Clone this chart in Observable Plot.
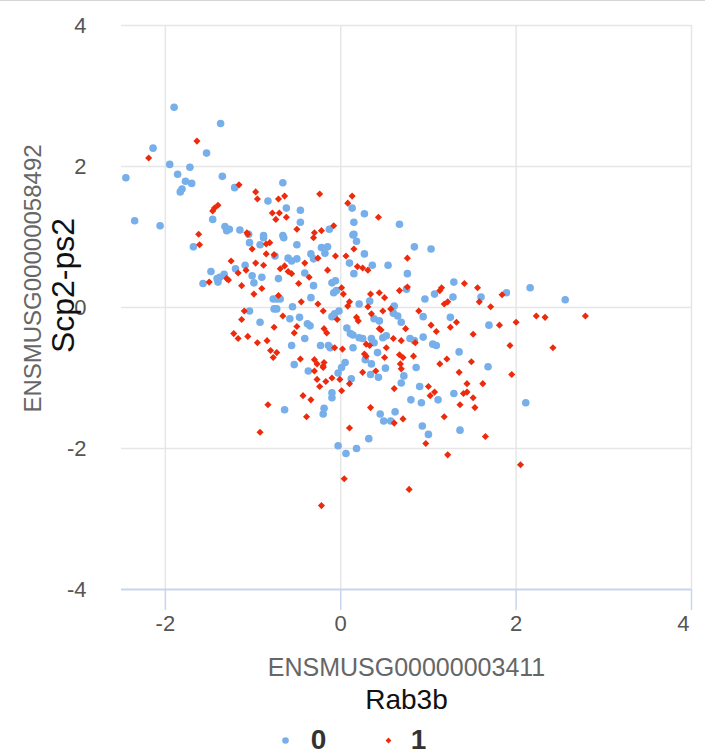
<!DOCTYPE html>
<html>
<head>
<meta charset="utf-8">
<script src="https://cdn.jsdelivr.net/npm/d3@7"></script>
<script src="https://cdn.jsdelivr.net/npm/@observablehq/plot@0.6"></script>
<style>
  html, body { margin: 0; padding: 0; background: #fff; }
  #wrap { position: relative; width: 705px; height: 756px; }
  #topline { position: absolute; left: 0; top: 0; width: 705px; height: 1px; background: #d4d4d4; }
</style>
</head>
<body>
<div id="wrap"><div id="chart"></div><div id="topline"></div></div>
<script>
// Axis titles, categories and ticks
const xTitle = ["ENSMUSG00000003411", "Rab3b"];
const yTitle = ["ENSMUSG00000058492", "Scp2-ps2"];
const categories = ["0", "1"];
const xTicks = [-2, 0, 2, 4];
const yTicks = [-4, -2, 0, 2, 4];

// Group "0" (blue circles)
const x0 = [-2.45,-2.35,-2.06,-1.90,-2.14,-1.95,-1.37,-1.53,-1.72,-1.86,-1.77,-1.70,-1.83,-1.81,-1.35,-1.21,-0.83,-1.46,-1.32,-1.27,-1.15,-0.88,
  -0.66,-0.62,-0.46,-0.46,-0.13,0.13,0.27,0.15,0.67,0.15,-0.66,
  -1.68,-1.30,-1.05,-0.88,-1.04,-0.92,-1.20,-1.09,-1.48,-1.57,-1.41,-1.38,-1.33,-1.40,-1.01,-0.99,-0.90,-0.77,-0.76,-1.04,-0.92,
  -0.65,0.14,0.18,-0.50,-0.22,-0.15,-0.18,0.27,0.84,1.03,-0.75,-0.60,-0.56,-0.50,-0.34,-0.31,0.10,0.36,0.54,0.15,0.76,-0.71,-0.41,-0.31,-0.10,-0.06,-0.08,-0.05,0.75,0.33,0.96,1.07,
  -0.73,-0.69,-0.73,-0.34,-0.55,0.21,0.61,0.60,0.94,-0.02,-0.07,-0.10,-0.47,-0.38,-0.35,-0.58,0.38,0.44,0.65,0.69,0.07,0.11,0.14,0.21,0.25,0.35,0.38,0.48,0.52,0.79,0.84,0.94,
  -0.41,-0.23,-0.14,-0.12,-0.56,0.14,0.42,-0.53,0.01,0.05,0.28,0.35,0.86,
  -0.37,-0.03,0.12,-0.10,-0.10,0.34,0.43,0.51,0.69,0.72,0.90,0.80,0.92,-0.64,-0.19,-0.20,0.45,0.49,0.57,0.62,0.93,1.00,0.32,-0.03,0.06,0.18,
  1.68,1.11,1.29,2.11,1.36,
  1.29,1.28,1.60,1.89,2.16,2.56,1.69,1.25,1.05,1.09,1.35];
const y0 = [1.84,1.23,1.16,2.84,2.26,2.03,2.61,2.19,1.99,1.89,1.79,1.76,1.64,1.68,1.86,1.70,1.51,1.25,1.15,1.11,1.10,1.02,
  1.77,1.41,1.38,1.21,1.11,1.41,1.33,1.21,1.18,1.04,1.02,
  0.86,1.09,1.04,0.99,0.92,0.89,0.55,0.60,0.51,0.34,0.41,0.43,0.47,0.36,0.45,0.35,0.43,0.12,-0.02,-0.05,-0.21,
  0.99,1.03,0.94,0.89,0.85,0.86,0.77,0.76,0.86,0.83,0.73,0.70,0.66,0.69,0.76,0.69,0.63,0.60,0.60,0.48,0.48,0.41,0.49,0.31,0.35,0.38,0.21,0.24,0.26,0.09,0.12,0.19,
  0.12,0.12,-0.02,0.14,0.01,0.05,0.02,-0.08,-0.13,-0.05,-0.09,-0.13,-0.14,-0.23,-0.26,-0.16,-0.16,-0.19,-0.12,-0.21,-0.29,-0.37,-0.39,-0.43,-0.44,-0.44,-0.50,-0.43,-0.40,-0.44,-0.47,-0.42,
  -0.44,-0.54,-0.54,-0.57,-0.54,-0.57,-0.64,-0.81,-0.85,-0.78,-0.74,-0.80,-0.85,
  -0.90,-0.93,-1.01,-1.21,-1.28,-0.95,-0.99,-0.86,-1.07,-0.97,-1.12,-1.31,-1.35,-1.45,-1.43,-1.51,-1.51,-1.61,-1.61,-1.48,-1.68,-1.80,-1.86,-1.96,-2.07,-2.00,
  -0.84,-1.31,-1.22,-1.35,-1.74,
  0.36,0.15,0.15,0.21,0.28,0.11,-0.25,-0.14,-0.52,-0.54,-0.63];

// Group "1" (red diamonds)
const x1 = [-2.19,-1.64,-1.16,-0.97,-0.95,-1.40,-1.44,-1.46,-0.78,-0.74,-1.62,-1.07,
  -0.71,-0.64,-0.24,-0.70,-0.62,-0.50,-0.30,-0.22,-0.08,0.13,0.08,0.43,
  -1.61,-1.06,-0.85,-0.81,-1.01,-0.85,-0.76,-1.25,-0.97,-0.88,-1.17,-1.08,-1.50,-1.30,-1.28,-1.13,-0.99,-0.90,-1.10,-1.13,-0.76,-1.22,-1.17,-1.06,-0.95,-0.84,-0.80,-0.77,
  -0.31,0.15,0.76,-0.41,-0.26,-0.06,0.06,0.19,0.25,0.31,-0.15,-0.64,-0.69,-0.56,-0.60,-0.36,-0.48,0.01,0.03,0.67,0.76,0.34,0.44,0.50,-0.71,-0.45,-0.26,0.10,0.08,0.31,0.48,0.57,0.89,0.35,-0.20,-0.66,-0.04,0.18,0.20,0.44,0.46,0.74,
  -0.50,-0.19,-0.16,0.29,0.33,0.60,0.69,0.85,-0.53,-0.73,-0.07,0.02,0.27,0.29,0.52,0.50,0.67,0.71,0.83,-0.46,-0.30,-0.27,-0.19,-0.20,0.68,
  -0.30,-0.20,-0.27,-0.24,-0.17,-0.10,-0.01,0.10,0.01,0.25,0.40,0.69,0.61,1.00,1.02,1.07,-0.43,-0.34,-0.39,0.34,0.61,0.71,0.97,0.10,0.04,0.78,-0.22,
  -0.83,-0.92,
  1.35,1.95,1.44,1.62,1.40,1.44,1.51,1.36,1.53,1.18,1.65,1.22,2.05,
  1.41,1.15,1.13,1.56,1.18,1.22,1.58,1.71,1.84,2.23,2.33,2.79,2.00,1.81,1.32,1.25,1.03,1.09,1.51,1.93,2.42,1.21,1.13,1.49];
const y1 = [2.12,2.36,1.74,1.64,1.54,1.45,1.41,1.37,1.34,1.25,1.04,1.06,
  1.54,1.58,1.61,1.34,1.28,1.11,1.06,1.09,1.16,1.58,1.48,1.28,
  0.89,1.04,0.90,0.92,0.83,0.76,0.75,0.66,0.63,0.60,0.49,0.53,0.36,0.41,0.39,0.31,0.19,0.27,-0.05,-0.17,-0.28,-0.37,-0.44,-0.41,-0.50,-0.47,-0.61,-0.71,
  0.99,0.83,0.70,0.63,0.70,0.73,0.73,0.58,0.56,0.53,0.53,0.59,0.55,0.48,0.51,0.43,0.34,0.28,0.19,0.24,0.29,0.19,0.21,0.14,0.17,0.08,0.05,0.08,0.02,0.01,-0.05,-0.02,-0.05,-0.09,-0.05,-0.12,-0.17,-0.14,-0.19,-0.30,-0.32,-0.30,
  -0.27,-0.30,-0.36,-0.52,-0.54,-0.44,-0.47,-0.50,-0.36,-0.64,-0.57,-0.59,-0.66,-0.69,-0.57,-0.71,-0.67,-0.71,-0.69,-0.73,-0.74,-0.80,-0.78,-0.85,-0.80,
  -0.90,-0.83,-1.02,-1.12,-1.05,-1.00,-1.02,-1.08,-1.18,-0.92,-0.90,-0.87,-1.15,-1.12,-1.25,-1.20,-1.25,-1.31,-1.55,-1.42,-1.64,-1.58,-1.93,-1.71,-2.43,-2.58,-2.81,
  -1.38,-1.77,
  -0.92,-0.95,-1.08,-1.08,-1.22,-1.20,-1.28,-1.38,-1.42,-1.55,-1.83,-2.09,-2.23,
  0.34,0.28,0.24,0.28,0.05,0.08,0.08,0.01,0.18,-0.12,-0.14,-0.12,-0.21,-0.25,-0.21,-0.28,-0.25,-0.34,-0.38,-0.54,-0.57,-0.73,-0.80,-0.77];

const colors = ["#76afea", "#ee2a0c"];

const pts0 = x0.map((x, i) => ({x, y: y0[i], g: categories[0]}));
const pts1 = x1.map((x, i) => ({x, y: y1[i], g: categories[1]}));

const fmt = d => (d < 0 ? "-" + Math.abs(d) : String(d));
const font = "'Liberation Sans', Arial, Helvetica, sans-serif";
const mid = {lineAnchor: "middle", textAnchor: "middle"};
const lastX = xTicks[xTicks.length - 1];

const plot = Plot.plot({
  width: 705,
  height: 756,
  marginLeft: 121,
  marginRight: 14,
  marginTop: 25,
  marginBottom: 167,
  style: {fontFamily: font, background: "#fff", overflow: "visible"},
  x: {domain: [-2.5, 4], axis: null},
  y: {domain: [-4, 4], axis: null},
  marks: [
    Plot.ruleX(xTicks, {stroke: "#e6e6e6", strokeWidth: 1.5}),
    Plot.ruleY(yTicks.filter(d => d > -4), {stroke: "#e6e6e6", strokeWidth: 1.5}),
    Plot.ruleY([-4], {stroke: "#c9d4ee", strokeWidth: 2}),
    Plot.axisX({ticks: xTicks, tickSize: 21, stroke: "#c9d4ee", strokeWidth: 1.5, tickFormat: () => "", label: null}),
    // tick labels
    Plot.text(xTicks.filter(d => d !== lastX), {x: d => d, frameAnchor: "bottom", ...mid, dy: 34, text: fmt, fontSize: 22, fill: "#555"}),
    Plot.text([lastX], {x: d => d, frameAnchor: "bottom", lineAnchor: "middle", textAnchor: "end", dx: -2, dy: 34, text: fmt, fontSize: 22, fill: "#555"}),
    Plot.text(yTicks, {y: d => d, frameAnchor: "left", lineAnchor: "middle", textAnchor: "end", dx: -35, text: fmt, fontSize: 22, fill: "#555"}),
    Plot.dot(pts0, {x: "x", y: "y", r: 3.8, fill: colors[0]}),
    Plot.dot(pts1, {x: "x", y: "y", symbol: "diamond2", r: 3.2, fill: colors[1]}),
    // axis titles
    Plot.text([xTitle[0]], {frameAnchor: "bottom", ...mid, dy: 78, fontSize: 25, fill: "#666"}),
    Plot.text([xTitle[1]], {frameAnchor: "bottom", ...mid, dy: 111, fontSize: 28, fill: "#111"}),
    Plot.text([yTitle[0]], {frameAnchor: "left", ...mid, dx: -88, dy: -29, rotate: -90, fontSize: 24, fill: "#666"}),
    Plot.text([yTitle[1]], {frameAnchor: "left", ...mid, dx: -58, dy: -22, rotate: -90, fontSize: 32, fill: "#111"}),
    // legend
    Plot.dot([categories[0]], {frameAnchor: "bottom", dx: 285 - 406, dy: 151, r: 3.3, fill: colors[0]}),
    Plot.text([categories[0]], {frameAnchor: "bottom", ...mid, dx: 318 - 406, dy: 151, fontSize: 28, fontWeight: "bold", fill: "#333"}),
    Plot.dot([categories[1]], {frameAnchor: "bottom", dx: 388 - 406, dy: 151, symbol: "diamond2", r: 2.6, fill: colors[1]}),
    Plot.text([categories[1]], {frameAnchor: "bottom", ...mid, dx: 418 - 406, dy: 151, fontSize: 28, fontWeight: "bold", fill: "#333"})
  ]
});
document.getElementById("chart").appendChild(plot);
</script>
</body>
</html>
